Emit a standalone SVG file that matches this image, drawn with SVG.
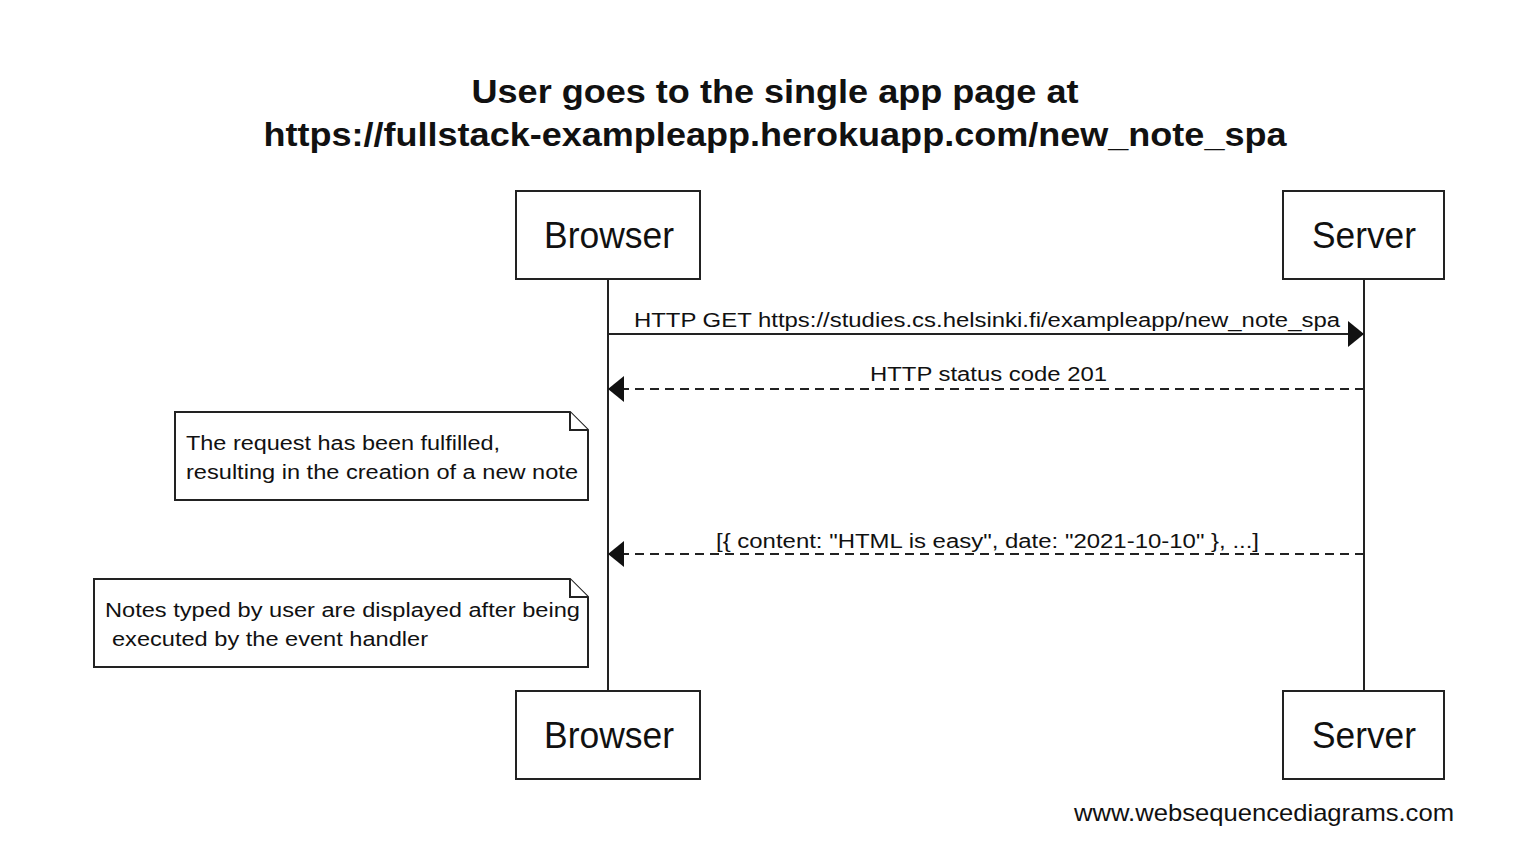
<svg xmlns="http://www.w3.org/2000/svg" width="1540" height="862" viewBox="0 0 1540 862">
<defs>
<style>
.box{fill:#fff;stroke:#222;stroke-width:2}
.life{stroke:#222;stroke-width:2}
.msg{stroke:#222;stroke-width:2;fill:none}
.dash{stroke-dasharray:9 6}
.t{font-family:"Liberation Sans",Arial,sans-serif;fill:#111}
.p{font-size:36px;text-anchor:middle}
.m{font-size:20px}
.title{font-size:34px;font-weight:bold;text-anchor:middle}
</style>
<marker id="ah" markerWidth="16" markerHeight="26" refX="16" refY="13" orient="auto" markerUnits="userSpaceOnUse">
<path d="M0,0 L16,13 L0,26 Z" fill="#111"/>
</marker>
</defs>
<rect width="1540" height="862" fill="#fff"/>
<g id="title">
<text class="t title" x="775" y="103" textLength="607" lengthAdjust="spacingAndGlyphs">User goes to the single app page at</text>
<text class="t title" x="775" y="146" textLength="1023" lengthAdjust="spacingAndGlyphs">https://fullstack-exampleapp.herokuapp.com/new_note_spa</text>
</g>
<g id="lifelines">
<line class="life" x1="608" y1="279" x2="608" y2="691"/>
<line class="life" x1="1364" y1="279" x2="1364" y2="691"/>
</g>
<g id="browser-top"><rect class="box" x="516" y="191" width="184" height="88"/><text class="t p" x="609" y="248" textLength="130" lengthAdjust="spacingAndGlyphs">Browser</text></g>
<g id="server-top"><rect class="box" x="1283" y="191" width="161" height="88"/><text class="t p" x="1364" y="248" textLength="104" lengthAdjust="spacingAndGlyphs">Server</text></g>
<g id="browser-bottom"><rect class="box" x="516" y="691" width="184" height="88"/><text class="t p" x="609" y="748" textLength="130" lengthAdjust="spacingAndGlyphs">Browser</text></g>
<g id="server-bottom"><rect class="box" x="1283" y="691" width="161" height="88"/><text class="t p" x="1364" y="748" textLength="104" lengthAdjust="spacingAndGlyphs">Server</text></g>
<g id="connectors">
<line class="msg" x1="608" y1="334" x2="1364" y2="334" marker-end="url(#ah)"/>
<text class="t m" x="634" y="327" textLength="706" lengthAdjust="spacingAndGlyphs">HTTP GET https://studies.cs.helsinki.fi/exampleapp/new_note_spa</text>
<line class="msg dash" x1="1364" y1="389" x2="608" y2="389" marker-end="url(#ah)"/>
<text class="t m" x="870" y="381" textLength="237" lengthAdjust="spacingAndGlyphs">HTTP status code 201</text>
<line class="msg dash" x1="1364" y1="554" x2="608" y2="554" marker-end="url(#ah)"/>
<text class="t m" x="716" y="548" textLength="543" lengthAdjust="spacingAndGlyphs">[{ content: "HTML is easy", date: "2021-10-10" }, ...]</text>
</g>
<g id="note1">
<path class="box" d="M175,412 H570 L588,430 V500 H175 Z"/>
<path class="box" d="M570,412 V430 H588" fill="none"/>
<text class="t m" x="186" y="450" textLength="314" lengthAdjust="spacingAndGlyphs">The request has been fulfilled,</text>
<text class="t m" x="186" y="479" textLength="392" lengthAdjust="spacingAndGlyphs">resulting in the creation of a new note</text>
</g>
<g id="note2">
<path class="box" d="M94,579 H570 L588,597 V667 H94 Z"/>
<path class="box" d="M570,579 V597 H588" fill="none"/>
<text class="t m" x="105" y="617" textLength="475" lengthAdjust="spacingAndGlyphs">Notes typed by user are displayed after being</text>
<text class="t m" x="112" y="646" textLength="316" lengthAdjust="spacingAndGlyphs">executed by the event handler</text>
</g>
<g id="footer">
<text class="t" x="1074" y="821" font-size="24" fill="#333" textLength="380" lengthAdjust="spacingAndGlyphs">www.websequencediagrams.com</text>
</g>
</svg>
